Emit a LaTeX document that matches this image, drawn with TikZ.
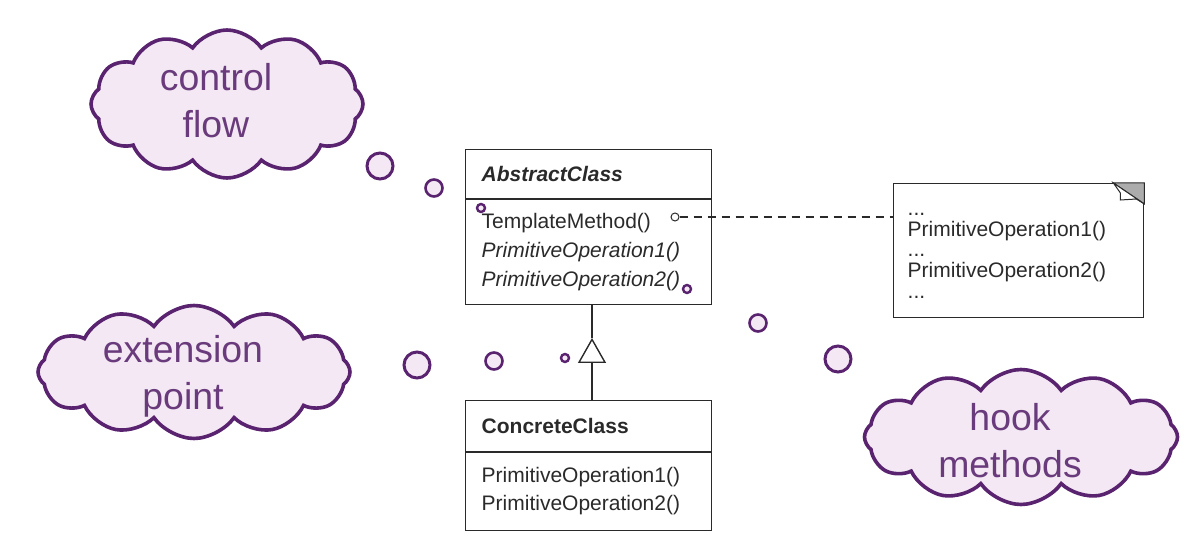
\documentclass[tikz,border=0pt]{standalone}
\usepackage{fontspec}
\setmainfont{Liberation Sans}
\usetikzlibrary{shapes,arrows.meta}
\definecolor{thinkline}{HTML}{5A2370}
\definecolor{thinkfill}{HTML}{F3E8F3}
\definecolor{thinktext}{HTML}{6A3B7C}
\definecolor{umlink}{HTML}{2A2A2A}
\newcommand{\cloudlines}[2]{\makebox[0pt]{\raisebox{\dimexpr-4.7pt-#1\relax}[0pt][0pt]{%
  \begin{tabular}{@{}c@{}}#2\end{tabular}}\hspace*{11pt}}}

\begin{document}
\begin{tikzpicture}[x=0.5pt,y=-0.5pt]
\tikzstyle{umlclass}=[
  rectangle split,
  rectangle split parts=2,
  draw=umlink, line width=0.7pt, anchor=north west,
  text width=107pt, inner xsep=8pt, inner ysep=0pt,
  font=\fontsize{10.5}{14.5}\selectfont, text=umlink ]
\tikzstyle{umlnote}=[
  draw=umlink, line width=0.7pt, anchor=north west,
  text width=111pt, inner xsep=7pt, inner ysep=0pt,
  font=\fontsize{10.5}{10.4}\selectfont, text=umlink ]
\tikzstyle{thought}=[
  cloud, cloud puffs=12, cloud puff arc=110, cloud ignores aspect,
  draw=thinkline, fill=thinkfill, line width=1.8pt, inner sep=0pt,
  text=thinktext, font=\fontsize{18.7}{23.5}\selectfont ]
\tikzstyle{bubble}=[circle, draw=thinkline, fill=thinkfill, inner sep=0pt]
\useasboundingbox (0,0) rectangle (1184,545);

\node[umlclass] (abstract) at (465,149)
  {\parbox[c][24pt][c]{107pt}{\bfseries\itshape AbstractClass}
   \nodepart{two}\parbox[c][52pt][c]{107pt}{TemplateMethod()\\
     \itshape PrimitiveOperation1()\\ PrimitiveOperation2()}};
\node[umlclass, font=\fontsize{10.5}{14}\selectfont] (concrete) at (465,400)
  {\parbox[c][25pt][c]{107pt}{\bfseries ConcreteClass}
   \nodepart{two}\parbox[c][38.5pt][c]{107pt}{PrimitiveOperation1()\\
     PrimitiveOperation2()}};
\node[umlnote] (note) at (893,183)
  {\parbox[c][67pt][c]{111pt}{\vspace*{5pt}...\\PrimitiveOperation1()\\...\\PrimitiveOperation2()\\...}};
\filldraw[fill=gray!65, draw=umlink, line width=0.5pt]
  ([xshift=-15.5pt]note.north east) -- (note.north east)
  -- ([yshift=-10.5pt]note.north east) -- cycle;
\filldraw[fill=white, draw=umlink, line width=0.5pt]
  ([xshift=-15.5pt]note.north east) -- ([xshift=-12pt,yshift=-5pt]note.north east)
  -- ([xshift=-12pt,yshift=-8.5pt]note.north east) -- ([xshift=-4pt,yshift=-8pt]note.north east)
  -- ([yshift=-10.5pt]note.north east) -- cycle;

\node[circle, draw=umlink, line width=0.5pt, inner sep=0pt, minimum size=4pt] (tmhook) at (675,217) {};
\draw[umlink, line width=0.6pt, dash pattern=on 4pt off 3pt] (tmhook) -- (tmhook -| note.west);

\coordinate (gentip) at (592,338);
\draw[umlink, line width=0.7pt, -{Triangle[open, length=12.5pt, width=14pt]}]
  (gentip |- concrete.north) -- (gentip);
\draw[umlink, line width=0.7pt] (gentip) -- (gentip |- abstract.south);

\node[thought, minimum width=136pt, minimum height=74pt] (ctrl) at (227,104)
  {\cloudlines{0pt}{control\\flow}};
\node[bubble, line width=1.5pt, minimum size=13pt] (ctrla) at (380,166) {};
\node[bubble, line width=1.3pt, minimum size=8.5pt] (ctrlb) at (434,188) {};
\node[bubble, line width=1.2pt, minimum size=4pt] (ctrlc) at (481,208) {};

\node[thought, minimum width=156pt, minimum height=66.5pt] (ext) at (194,372)
  {\cloudlines{2pt}{extension\\point}};
\node[bubble, line width=1.5pt, minimum size=13pt] (exta) at (417,365) {};
\node[bubble, line width=1.3pt, minimum size=8.5pt] (extb) at (494,361) {};
\node[bubble, line width=1.2pt, minimum size=4pt] (extc) at (565,358) {};

\node[thought, minimum width=156.5pt, minimum height=67.5pt] (hook) at (1021,437)
  {\cloudlines{3.5pt}{hook\\methods}};
\node[bubble, line width=1.5pt, minimum size=13pt] (hooka) at (838,359) {};
\node[bubble, line width=1.3pt, minimum size=8.5pt] (hookb) at (758,323) {};
\node[bubble, line width=1.2pt, minimum size=4pt] (hookc) at (687,289) {};
\end{tikzpicture}
\end{document}
